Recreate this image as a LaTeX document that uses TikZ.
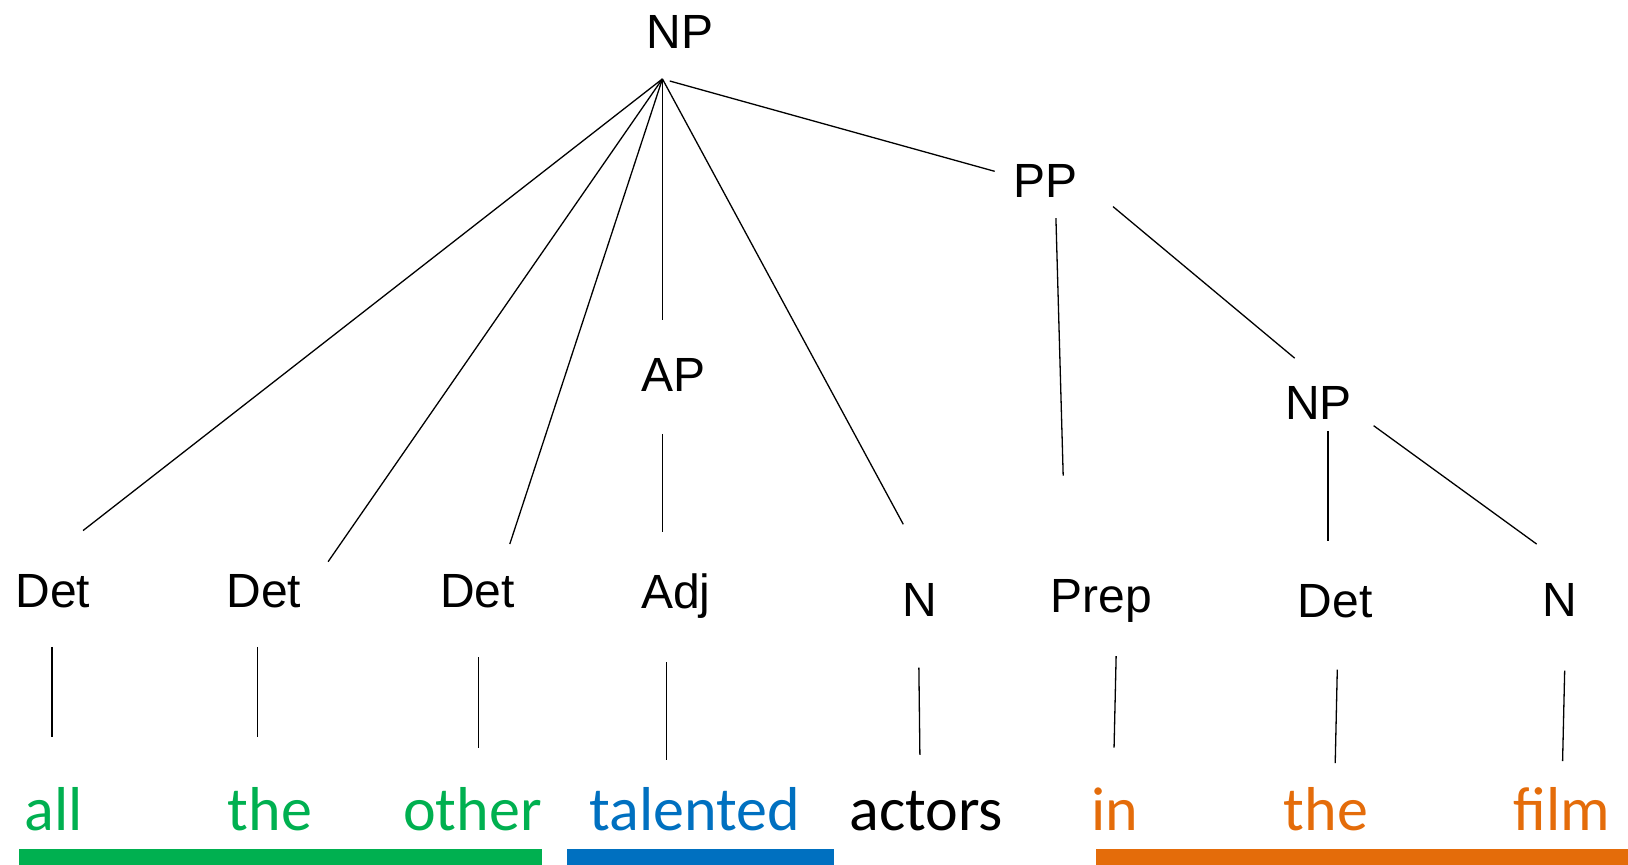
\documentclass[tikz,border=0pt]{standalone}
\usepackage{fontspec}
\setmainfont{Liberation Sans}
\newfontfamily\wordfont{Carlito}
\definecolor{wgreen}{HTML}{00B050}
\definecolor{wblue}{HTML}{0070C0}
\definecolor{worange}{HTML}{E46C0A}
\begin{document}
\begin{tikzpicture}[x=1.0383pt,y=-1.0383pt,
  lab/.style={anchor=base,inner sep=0pt,font=\fontsize{48}{56}\selectfont},
  word/.style={anchor=base,inner sep=0pt,font=\wordfont\fontsize{62}{72}\selectfont},
  edge/.style={line width=1.3pt,black},
  bar/.style={draw=none}]
\useasboundingbox (0,0) rectangle (1568,833);
% labels
\node[lab] (np) at (655,47) {NP};
\node[lab] (pp) at (1007,190) {PP};
\node[lab] (ap) at (649,377) {AP};
\node[lab] (np2) at (1270,404) {NP};
\node[lab] (det1) at (51,585) {Det};
\node[lab] (det2) at (254,585) {Det};
\node[lab] (det3) at (460,585) {Det};
\node[lab] (adj) at (651,586) {Adj};
\node[lab] (n1) at (886,594) {N};
\node[lab] (prep) at (1061,590) {Prep};
\node[lab] (det4) at (1286,595) {Det};
\node[lab] (n2) at (1502,594) {N};
% words
\node[word,text=wgreen] (w1) at (52,800) {all};
\node[word,text=wgreen] (w2) at (260,800) {the};
\node[word,text=wgreen] (w3) at (455,800) {other};
\node[word,text=wblue] (w4) at (669,800) {talented};
\node[word,text=black] (w5) at (892,800) {actors};
\node[word,text=worange] (w6) at (1074,800) {in};
\node[word,text=worange] (w7) at (1277,800) {the};
\node[word,text=worange] (w8) at (1504,800) {film};
% connector end points
\coordinate (apex) at (638,76);
\coordinate (apexr) at (645,78);
\coordinate (d1t) at (80,511);
\coordinate (d2t) at (316,541);
\coordinate (d3t) at (491,524);
\coordinate (apt) at (638,308);
\coordinate (n1t) at (870,505);
\coordinate (ppl) at (958,165);
\coordinate (ppb) at (1017,210);
\coordinate (prept) at (1024,458);
\coordinate (ppr) at (1072,199);
\coordinate (np2t) at (1247,345);
\coordinate (apb) at (638,418);
\coordinate (adjt) at (638,512);
\coordinate (np2b) at (1279,415);
\coordinate (d4t) at (1279,521);
\coordinate (np2r) at (1323,410);
\coordinate (n2t) at (1480,524);
\draw[edge] (apex) -- (d1t);
\draw[edge] (apex) -- (d2t);
\draw[edge] (apex) -- (d3t);
\draw[edge] (apex) -- (apt);
\draw[edge] (apex) -- (n1t);
\draw[edge] (apexr) -- (ppl);
\draw[edge] (ppb) -- (prept);
\draw[edge] (ppr) -- (np2t);
\draw[edge] (apb) -- (adjt);
\draw[edge] (np2b) -- (d4t);
\draw[edge] (np2r) -- (n2t);
% lower connectors
\coordinate (d1a) at (50,623); \coordinate (d1b) at (50,710);
\coordinate (d2a) at (248,623); \coordinate (d2b) at (248,710);
\coordinate (d3a) at (461,633); \coordinate (d3b) at (461,720);
\coordinate (aja) at (642,638); \coordinate (ajb) at (642,732);
\coordinate (n1a) at (885,643); \coordinate (n1b) at (886,727);
\coordinate (pra) at (1075,632); \coordinate (prb) at (1073,720);
\coordinate (d4a) at (1288,645); \coordinate (d4b) at (1286,735);
\coordinate (n2a) at (1507,646); \coordinate (n2b) at (1505,733);
\draw[edge] (d1a) -- (d1b);
\draw[edge] (d2a) -- (d2b);
\draw[edge] (d3a) -- (d3b);
\draw[edge] (aja) -- (ajb);
\draw[edge] (n1a) -- (n1b);
\draw[edge] (pra) -- (prb);
\draw[edge] (d4a) -- (d4b);
\draw[edge] (n2a) -- (n2b);
% bars
\fill[wgreen] (18,818) rectangle (522,833);
\fill[wblue] (546,818) rectangle (803,833);
\fill[worange] (1056,818) rectangle (1568,833);
\end{tikzpicture}
\end{document}
